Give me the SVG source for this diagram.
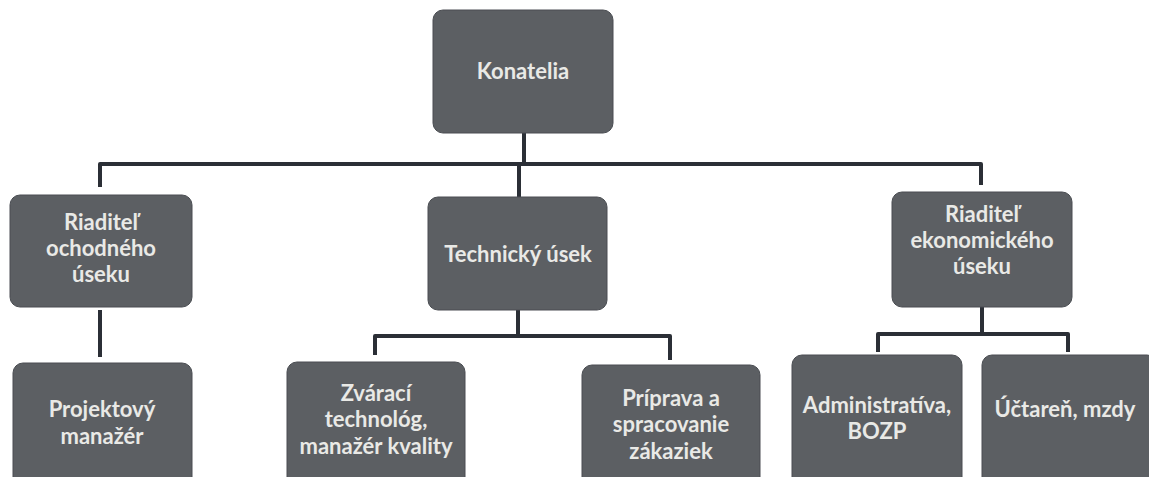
<svg xmlns="http://www.w3.org/2000/svg" width="1149" height="477" viewBox="0 0 1149 477">
<style>
.box{fill:#5c5f63;stroke:#4a4d52;stroke-width:1}
.t{font-family:Lato,"Open Sans","Liberation Sans",sans-serif;font-size:22px;font-weight:bold;fill:#e9e9e6;text-anchor:middle}
.c{fill:none;stroke:#2b2f36;stroke-width:4;stroke-linejoin:round}
</style>
<rect width="1149" height="477" fill="#ffffff"/>
<g id="connectors">
<path class="c" d="M524 133 V164"/>
<path class="c" d="M100 187 V164 H981 V185"/>
<path class="c" d="M519 164 V197"/>
<path class="c" d="M100 310 V357"/>
<path class="c" d="M518 310 V336"/>
<path class="c" d="M375 355 V336 H670 V360"/>
<path class="c" d="M982 307 V334"/>
<path class="c" d="M878 352 V334 H1068 V352"/>
</g>
<g id="n-konatelia"><rect class="box" x="433" y="10" width="180" height="123" rx="10"/><text class="t" x="523" y="79">Konatelia</text></g>
<g id="n-obchod"><rect class="box" x="10" y="195" width="182" height="112" rx="10"/><text class="t" x="101" y="230">Riaditeľ</text><text class="t" x="101" y="256">ochodného</text><text class="t" x="101" y="282">úseku</text></g>
<g id="n-tech"><rect class="box" x="428" y="197" width="179" height="113" rx="10"/><text class="t" x="518" y="262">Technický úsek</text></g>
<g id="n-ekon"><rect class="box" x="892" y="192" width="180" height="115" rx="10"/><text class="t" x="982" y="222">Riaditeľ</text><text class="t" x="982" y="248">ekonomického</text><text class="t" x="982" y="274">úseku</text></g>
<g id="n-projekt"><rect class="box" x="13" y="363" width="179" height="124" rx="10"/><text class="t" x="102" y="417">Projektový</text><text class="t" x="102" y="444">manažér</text></g>
<g id="n-zvar"><rect class="box" x="287" y="362" width="178" height="125" rx="10"/><text class="t" x="376" y="401">Zvárací</text><text class="t" x="376" y="427">technológ,</text><text class="t" x="376" y="454">manažér kvality</text></g>
<g id="n-priprava"><rect class="box" x="582" y="365" width="178" height="122" rx="10"/><text class="t" x="671" y="406">Príprava a</text><text class="t" x="671" y="432">spracovanie</text><text class="t" x="671" y="459">zákaziek</text></g>
<g id="n-admin"><rect class="box" x="792" y="355" width="170" height="132" rx="10"/><text class="t" x="877" y="413">Administratíva,</text><text class="t" x="877" y="439">BOZP</text></g>
<g id="n-uct"><rect class="box" x="982" y="355" width="175" height="132" rx="10"/><text class="t" x="1065" y="417">Účtareň, mzdy</text></g>
</svg>
